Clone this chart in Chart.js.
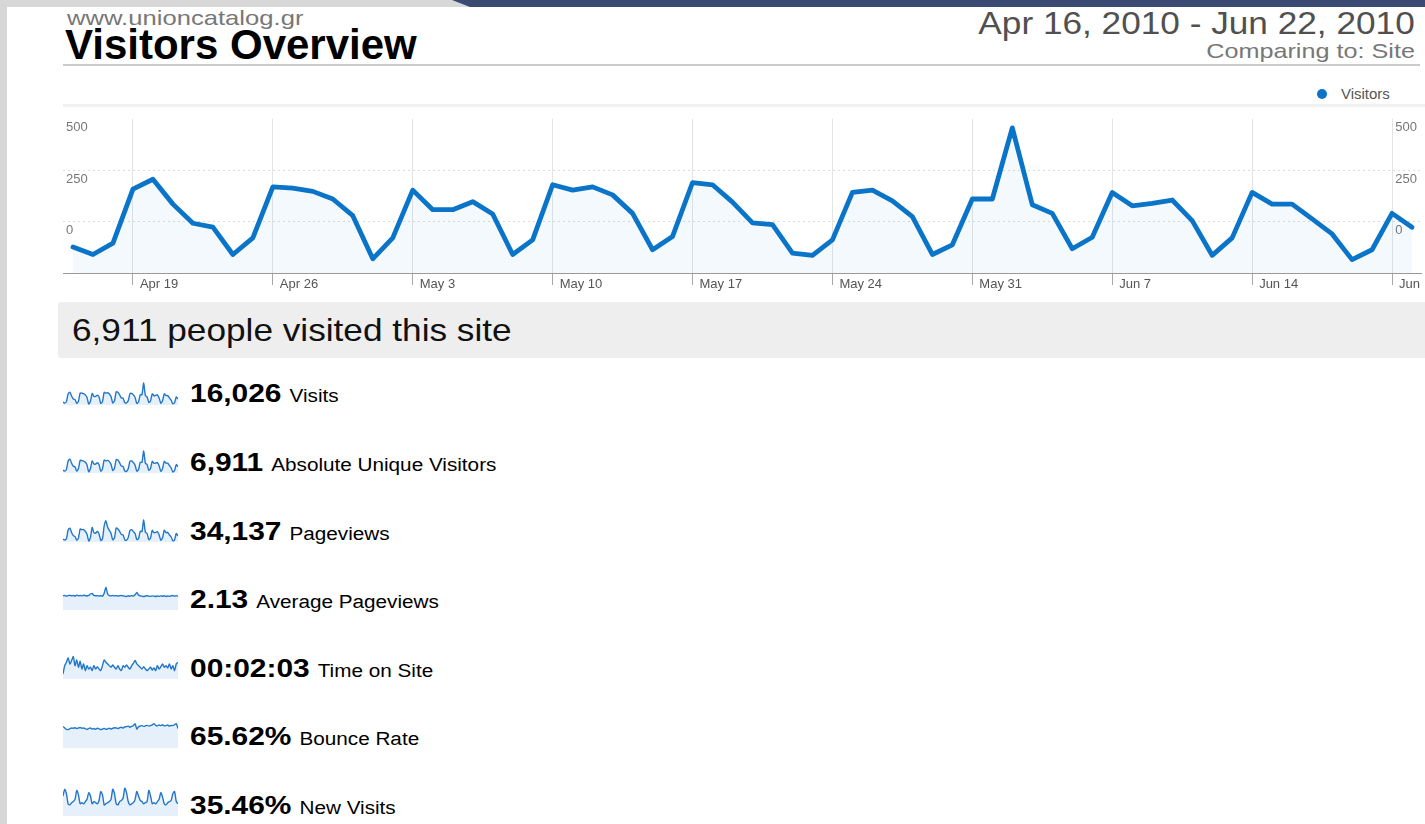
<!DOCTYPE html>
<html><head><meta charset="utf-8">
<script src="https://cdn.jsdelivr.net/npm/chart.js@4/dist/chart.umd.min.js"></script>
<style>
html,body{margin:0;padding:0;}
body{width:1425px;height:824px;overflow:hidden;position:relative;background:#fff;font-family:"Liberation Sans",Arial,sans-serif;}
.a{position:absolute;white-space:nowrap;line-height:1;}
.sl{transform-origin:left center;display:inline-block;}
.sr{transform-origin:right center;display:inline-block;}
.row{position:absolute;left:190px;white-space:nowrap;line-height:1;transform:scaleX(1.15);transform-origin:left center;color:#000;}
.row b{font-size:26px;font-weight:bold;margin-right:7px;}
.row span{font-size:18px;}
.spark{position:absolute;left:63px;width:115px;height:32px;}
</style></head><body>
<div class="a" style="left:0;top:0;width:7px;height:824px;background:#d7d7d7"></div>
<div class="a" style="left:0;top:0;width:1425px;height:7px;background:#d7d7d7"></div>
<div class="a" style="left:452px;top:0;width:973px;height:7px;background:#3b4a73;clip-path:polygon(0 0,100% 0,100% 100%,18px 100%)"></div>

<div class="a sl" style="left:67px;top:7px;font-size:21px;color:#777;transform:scaleX(1.22)">www.unioncatalog.gr</div>
<div class="a sl" style="left:65px;top:24px;font-size:42px;font-weight:bold;color:#000;">Visitors Overview</div>
<div class="a sr" style="right:10px;top:7px;font-size:32px;color:#505050;transform:scaleX(1.1)">Apr 16, 2010 - Jun 22, 2010</div>
<div class="a sr" style="right:10px;top:40px;font-size:21px;color:#777;transform:scaleX(1.2)">Comparing to: Site</div>
<div class="a" style="left:63px;top:64px;width:1357px;height:2px;background:#cccccc"></div>

<div class="a" style="left:1317px;top:89px;width:10px;height:10px;border-radius:50%;background:#0a74c9"></div>
<div class="a sl" style="left:1341px;top:87px;font-size:14px;color:#555;transform:scaleX(1.07)">Visitors</div>
<div class="a" style="left:63px;top:104px;width:1362px;height:3px;background:#f1f1f1"></div>

<div class="a" style="left:63px;top:108px;width:1359px;height:185px;overflow:hidden;">
  <div style="position:absolute;left:0;top:0;width:1399px;height:185px;"><canvas id="main"></canvas></div>
</div>

<div class="a" style="left:58px;top:302px;width:1370px;height:56px;background:#eeeeee;border-radius:3px 0 0 3px"></div>
<div class="a sl" style="left:72px;top:314px;font-size:32px;color:#111;transform:scaleX(1.1)">6,911 people visited this site</div>

<script>
// ---------- data ----------
const dates = ['Apr 16','Apr 17','Apr 18','Apr 19','Apr 20','Apr 21','Apr 22','Apr 23','Apr 24','Apr 25','Apr 26','Apr 27','Apr 28','Apr 29','Apr 30',
 'May 1','May 2','May 3','May 4','May 5','May 6','May 7','May 8','May 9','May 10','May 11','May 12','May 13','May 14','May 15','May 16','May 17','May 18','May 19','May 20','May 21','May 22','May 23','May 24','May 25','May 26','May 27','May 28','May 29','May 30','May 31',
 'Jun 1','Jun 2','Jun 3','Jun 4','Jun 5','Jun 6','Jun 7','Jun 8','Jun 9','Jun 10','Jun 11','Jun 12','Jun 13','Jun 14','Jun 15','Jun 16','Jun 17','Jun 18','Jun 19','Jun 20','Jun 21','Jun 22'];
const tickLabels = ['Apr 19','Apr 26','May 3','May 10','May 17','May 24','May 31','Jun 7','Jun 14','Jun 21'];
const yTicks = [0, 250, 500];

// main "Visitors" series, read against the axis as labelled
const visitors = [-124,-160,-105,158,206,85,-8,-27,-160,-79,169,163,147,110,29,-181,-79,
 153,58,58,97,37,-160,-89,179,153,169,130,40,-137,-72,190,179,95,
 -6,-15,-153,-164,-89,142,153,101,24,-160,-113,110,110,456,82,40,-132,
 -76,142,77,89,105,5,-164,-79,142,85,85,13,-60,-185,-137,40,-27];

// sparkline series
const visits = [120,95,130,310,345,260,190,175,90,140,330,325,315,285,225,75,140,320,250,250,280,235,90,130,345,325,335,305,240,100,150,355,345,285,215,210,105,100,150,310,320,285,225,90,120,290,290,560,270,240,110,150,310,265,275,285,215,95,150,310,270,270,215,165,80,105,235,190];
const pageviews = [246,200,260,645,731,533,399,354,194,288,693,663,668,593,455,158,322,762,525,513,582,475,185,260,828,1056,771,634,492,210,306,738,697,587,452,428,210,195,308,620,666,576,495,225,258,595,580,1092,545,494,220,297,632,530,539,576,426,194,300,639,529,545,426,337,168,210,489,376];
const avgPageviews = [2.05,2.10,2.00,2.08,2.12,2.05,2.10,2.02,2.15,2.06,2.10,2.04,2.12,2.08,2.02,2.10,2.30,2.38,2.10,2.05,2.08,2.02,2.06,2.00,2.40,3.25,2.30,2.08,2.05,2.10,2.04,2.08,2.02,2.06,2.10,2.04,2.00,1.95,2.05,2.00,2.08,2.02,2.20,2.50,2.15,2.05,2.00,1.95,2.02,2.06,2.00,1.98,2.04,2.00,1.96,2.02,1.98,2.04,2.00,2.06,1.96,2.02,1.98,2.04,2.10,2.00,2.08,1.98];
const timeOnSite = [80,123,140,162,132,149,169,123,152,115,145,106,132,98,123,106,115,98,123,106,118,106,98,123,152,140,132,123,115,126,115,106,123,106,98,123,115,126,115,106,123,135,149,132,123,115,106,118,106,98,106,115,101,111,98,123,106,118,132,115,123,111,132,106,123,98,132,140];
const bounceRate = [66.2,65.0,64.0,63.8,64.5,65.0,64.8,65.2,64.6,65.0,65.4,64.8,65.0,64.4,64.0,64.6,65.0,64.2,64.6,64.0,64.8,64.4,63.8,64.2,64.6,64.0,64.4,64.8,64.2,64.8,65.2,65.0,64.6,65.2,65.6,65.0,65.8,66.0,66.4,65.6,66.2,66.8,68.2,64.2,66.0,66.4,66.8,66.2,66.6,67.0,66.4,66.8,67.4,68.2,67.0,66.6,67.2,66.8,67.4,66.6,66.8,67.2,66.4,67.0,66.8,67.6,68.2,64.6];
const newVisits = [38,44,40,31,30,32,33,35,43,39,31,32,31,33,35,41,38,31,33,32,31,34,42,39,30,31,32,33,35,44,40,31,30,33,34,36,45,41,33,30,31,32,35,42,38,34,33,31,32,33,43,38,31,32,31,33,35,41,37,31,30,32,33,34,40,42,33,31];

const metricValues = ['16,026','6,911','34,137','2.13','00:02:03','65.62%','35.46%'];
const metricNames = ['Visits','Absolute Unique Visitors','Pageviews','Average Pageviews','Time on Site','Bounce Rate','New Visits'];
const metricSeries = [visits, visitors, pageviews, avgPageviews, timeOnSite, bounceRate, newVisits];
const metricRanges = [[52,791],[-216,761],[114,1537],[0.1,4.5],[55,218],[50,74],[20,48.8]];

// ---------- main chart ----------
Chart.defaults.font.family = '"Liberation Sans", Arial, sans-serif';
Chart.defaults.animation = false;
const FF = '"Liberation Sans", Arial, sans-serif';

new Chart(document.getElementById('main'), {
  type: 'line',
  data: { labels: dates, datasets: [{
    label: 'Visitors', data: visitors, yAxisID: 'y',
    borderColor: '#0a74c9', borderWidth: 4.8, borderJoinStyle: 'round', borderCapStyle: 'round',
    backgroundColor: 'rgba(10,116,201,0.045)', fill: 'start',
    pointRadius: 0, pointHoverRadius: 0, tension: 0
  }]},
  options: {
    responsive: true, maintainAspectRatio: false, devicePixelRatio: 1,
    layout: { padding: { top: 10, right: 40, left: 0, bottom: 0 } },
    plugins: { legend: { display: false }, tooltip: { enabled: false } },
    events: [],
    scales: {
      x: {
        type: 'category', offset: true,
        grid: { offset: false, color: '#e4e4e4', lineWidth: 1, drawTicks: true, tickLength: 12, tickColor: '#a8a8a8' },
        border: { display: true, color: '#9a9a9a', width: 1 },
        ticks: { autoSkip: false, maxRotation: 0, minRotation: 0, align: 'start', labelOffset: 7, padding: -8,
          color: '#555', font: { size: 13, family: FF },
          callback: (v, i) => tickLabels.includes(dates[i]) ? dates[i] : null },
        afterFit: s => { s.height = 20; }
      },
      y: {
        position: 'left', min: -250, max: 500,
        afterBuildTicks: s => { s.ticks = [-250].concat(yTicks).map(v => ({ value: v })); },
        grid: { drawTicks: false, lineWidth: 1,
          color: c => (c.tick && (c.tick.value === 500 || c.tick.value === -250)) ? 'rgba(0,0,0,0)' : '#dcdcdc' },
        border: { display: false, dash: [2, 3] },
        ticks: { mirror: true, padding: 3, labelOffset: 9, color: '#777', font: { size: 13, family: FF },
          callback: v => v >= 0 ? String(v) : null },
        afterFit: s => { s.width = 0; }
      },
      y2: {
        position: 'right', min: -250, max: 500,
        afterBuildTicks: s => { s.ticks = yTicks.map(v => ({ value: v })); },
        grid: { display: false, drawTicks: false },
        border: { display: false },
        ticks: { mirror: true, crossAlign: 'far', padding: -5, labelOffset: 9, color: '#777', font: { size: 13, family: FF },
          callback: v => String(v) },
        afterFit: s => { s.width = 0; }
      }
    }
  }
});

// ---------- metric rows with sparklines ----------
metricNames.forEach((name, i) => {
  const c = 393 + 68.6 * i;
  const r = document.createElement('div');
  r.className = 'row';
  r.style.top = (c - 12.7) + 'px';
  r.innerHTML = '<b>' + metricValues[i] + '</b><span>' + name + '</span>';
  document.body.appendChild(r);
  const d = document.createElement('div');
  d.className = 'spark';
  d.style.top = (c - 20.5) + 'px';
  const cv = document.createElement('canvas');
  d.appendChild(cv);
  document.body.appendChild(d);
  new Chart(cv, {
    type: 'line',
    data: { labels: dates, datasets: [{ data: metricSeries[i], borderColor: '#2277cc', borderWidth: 1.4,
      backgroundColor: '#e5f0fa', fill: 'start', pointRadius: 0, tension: 0.25 }] },
    options: {
      responsive: true, maintainAspectRatio: false, devicePixelRatio: 1, events: [],
      layout: { padding: 0 },
      plugins: { legend: { display: false }, tooltip: { enabled: false } },
      scales: { x: { display: false, offset: false }, y: { display: false, min: metricRanges[i][0], max: metricRanges[i][1] } }
    }
  });
});
</script>
</body></html>
